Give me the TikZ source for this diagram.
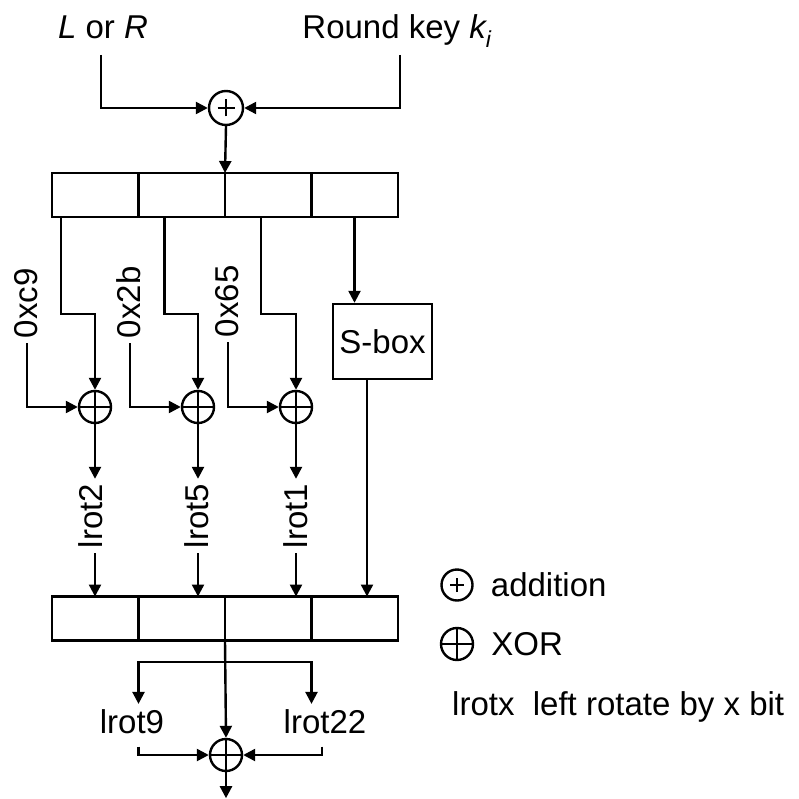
\documentclass[tikz,border=0pt]{standalone}
\usepackage{fontspec}
\setmainfont{Liberation Sans}
\usetikzlibrary{arrows.meta, positioning}

\begin{document}
\begin{tikzpicture}[x=1pt, y=-1pt,
    every node/.style={font=\fontsize{33}{40}\selectfont},
    cell/.style={draw, line width=2.4pt, minimum width=86.5pt, minimum height=44pt, inner sep=0pt, outer sep=0pt},
    sbox/.style={draw, line width=2.4pt, minimum width=99pt, minimum height=75pt, inner sep=0pt},
    xorop/.style={circle, draw, line width=2.4pt, minimum size=32pt, inner sep=0pt,
        path picture={\draw[line width=2.4pt] (path picture bounding box.north) -- (path picture bounding box.south)
            (path picture bounding box.west) -- (path picture bounding box.east);}},
    addop/.style={circle, draw, line width=2.4pt, minimum size=34pt, inner sep=0pt,
        path picture={\draw[line width=2.6pt] ([xshift=-#1pt]path picture bounding box.center) -- ([xshift=#1pt]path picture bounding box.center)
            ([yshift=-#1pt]path picture bounding box.center) -- ([yshift=#1pt]path picture bounding box.center);}},
    addop/.default=8.5,
    lbl/.style={rotate=90, anchor=west, inner sep=0pt, outer sep=5pt},
    hlbl/.style={anchor=base, inner sep=5pt},
    arrow/.style={line width=2.4pt, -{Triangle[length=12pt, width=12pt]}}
]
\useasboundingbox (0,0) rectangle (798,799);

% Inputs
\node[anchor=base] (lr) at (103,39) {\textit{L} or \textit{R}};
\node[anchor=base] (key) at (397,39) {Round key \textit{k\textsubscript{i}}};
\node[addop] (add) at (226,108) {};

\draw[arrow] (lr.base) ++(-2,16) |- (add.west);
\draw[arrow] (key.base) ++(3,16) |- (add.east);

% First register
\node[cell] (a1) at (95.25,195) {};
\node[cell, right=0pt of a1] (a2) {};
\node[cell, right=0pt of a2] (a3) {};
\node[cell, right=0pt of a3] (a4) {};

\draw[arrow] (add.south) -- (a3.north west);

% XOR with constants
\node[xorop] (x1) at (95,407) {};
\node[xorop] (x2) at (198,407) {};
\node[xorop] (x3) at (296,407) {};
\node[sbox] (sb) at (382.5,341.5) {S-box};

\draw[arrow] (a1.south west) ++(9,0) -- ++(0,97) -| (x1.north);
\draw[arrow] (a2.south west) ++(26,0) -- ++(0,97) -| (x2.north);
\draw[arrow] (a3.south west) ++(36,0) -- ++(0,97) -| (x3.north);
\draw[arrow] (a4.south west) ++(43,0) coordinate (s) -- (s |- sb.north);

\node[lbl] (c1) at (26,343) {0xc9};
\node[lbl] (c2) at (129,343) {0x2b};
\node[lbl] (c3) at (227,342) {0x65};

\draw[arrow] (c1.west) ++(1,0) |- (x1.west);
\draw[arrow] (c2.west) ++(1,0) |- (x2.west);
\draw[arrow] (c3.west) ++(1,0) |- (x3.west);

% Rotations
\node[lbl] (r1) at (91,553) {lrot2};
\node[lbl] (r2) at (197,553) {lrot5};
\node[lbl] (r3) at (296,553) {lrot1};

\draw[arrow] (x1.south) -- (x1.south |- r1.east);
\draw[arrow] (x2.south) -- (x2.south |- r2.east);
\draw[arrow] (x3.south) -- (x3.south |- r3.east);

% Second register
\node[cell] (b1) at (95.25,618.5) {};
\node[cell, right=0pt of b1] (b2) {};
\node[cell, right=0pt of b2] (b3) {};
\node[cell, right=0pt of b3] (b4) {};

\draw[arrow] (r1.west -| x1.south) -- (b1.north -| x1.south);
\draw[arrow] (r2.west -| x2.south) -- (b2.north -| x2.south);
\draw[arrow] (r3.west -| x3.south) -- (b3.north -| x3.south);
\draw[arrow] (sb.south) ++(-15.5,0) coordinate (t) -- (t |- b4.north);

% Final mixing
\node[hlbl] (q1) at (132,733) {lrot9};
\node[hlbl] (q2) at (325,733) {lrot22};
\node[xorop] (xo) at (226,755) {};

\draw[arrow] (b3.south west) -- (xo.north);
\path (b3.south west) ++(0,21.5) coordinate (br);
\draw[arrow] (br) -| (b1.south east |- q1.north);
\draw[arrow] (br) -| (b3.south east |- q2.north);
\draw[arrow] (b1.south east |- q1.south) ++(0,8) |- (xo.west);
\draw[arrow] (q2.south) ++(-3,8) |- (xo.east);
\draw[arrow] (xo.south) -- ++(0,26);

% Legend
\node[addop=7, minimum size=31pt] (ladd) at (457,585) {};
\node[right=17pt of ladd, inner sep=0pt] (tadd) {addition};
\node[xorop] (lxor) at (457,644) {};
\node[right=17pt of lxor, inner sep=0pt] (txor) {XOR};
\node[anchor=base west, inner sep=0pt] (tlrot) at (452,715) {lrotx\ \ left rotate by x bit};

\end{tikzpicture}
\end{document}
